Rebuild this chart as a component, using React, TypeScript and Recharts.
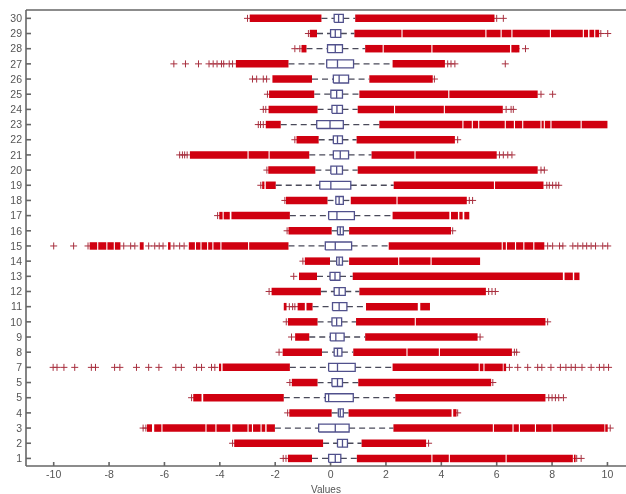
import { ScatterChart, Scatter, XAxis, YAxis } from "recharts";

const rowLabels = ["1", "2", "3", "4", "5", "5", "7", "8", "9", "10", "11", "12", "13", "14", "15", "16", "17", "18", "19", "20", "21", "22", "23", "24", "25", "26", "27", "28", "29", "30"];
const xTicks = [-10, -8, -6, -4, -2, 0, 2, 4, 6, 8, 10];

// box stats, index 0 is row 1
const q1 = [-0.07, 0.25, -0.43, 0.28, -0.19, 0.05, -0.07, 0.13, -0.01, 0.05, 0.07, 0.13, -0.02, 0.22, -0.19, 0.25, -0.07, 0.19, -0.39, 0.01, 0.1, 0.1, -0.5, 0.05, 0.01, 0.1, -0.14, -0.11, 0.0, 0.13];
const median = [0.17, 0.43, 0.17, 0.35, -0.07, 0.25, 0.25, 0.25, 0.19, 0.22, 0.31, 0.31, 0.16, 0.31, 0.17, 0.35, 0.23, 0.31, 0.01, 0.22, 0.35, 0.25, -0.02, 0.23, 0.22, 0.31, 0.25, 0.17, 0.17, 0.29];
const q3 = [0.37, 0.61, 0.67, 0.46, 0.82, 0.43, 0.89, 0.41, 0.49, 0.4, 0.59, 0.53, 0.34, 0.43, 0.76, 0.46, 0.86, 0.46, 0.73, 0.43, 0.65, 0.43, 0.46, 0.43, 0.43, 0.65, 0.83, 0.43, 0.37, 0.46];
const lowFence = [-0.67, -0.27, -2.01, 0.04, -1.69, -0.47, -1.47, -0.31, -0.77, -0.47, -0.65, -0.35, -0.49, -0.02, -1.52, 0.04, -1.47, -0.11, -1.98, -0.55, -0.77, -0.43, -1.8, -0.47, -0.59, -0.67, -1.52, -0.87, -0.49, -0.33];
const highFence = [0.95, 1.12, 2.27, 0.65, 2.34, 1.0, 2.24, 0.82, 1.25, 0.92, 1.28, 1.04, 0.8, 0.67, 2.1, 0.67, 2.24, 0.73, 2.28, 0.98, 1.48, 0.94, 1.76, 0.98, 1.04, 1.4, 2.24, 1.25, 0.86, 0.89];

// solid runs of overlapping outliers on each side of the box
const lowBands: number[][][] = [
  [[-1.54, -0.67]],
  [[-3.48, -0.27]],
  [[-6.63, -6.45], [-6.37, -6.11], [-6.07, -4.52], [-4.48, -4.16], [-4.12, -3.62], [-3.55, -3.0], [-2.96, -2.84], [-2.8, -2.53], [-2.49, -2.36], [-2.31, -2.01]],
  [[-1.49, 0.04]],
  [[-4.96, -4.66], [-4.6, -1.69]],
  [[-1.4, -0.47]],
  [[-4.03, -3.95], [-3.9, -1.47]],
  [[-1.73, -0.31]],
  [[-1.28, -0.77]],
  [[-1.54, -0.47]],
  [[-1.69, -1.59], [-1.19, -0.93], [-0.87, -0.65]],
  [[-2.13, -0.35]],
  [[-1.14, -0.49]],
  [[-0.93, -0.02]],
  [[-8.7, -8.43], [-8.39, -8.1], [-8.06, -7.83], [-7.79, -7.59], [-6.89, -6.75], [-5.87, -5.78], [-5.12, -4.9], [-4.86, -4.7], [-4.66, -4.46], [-4.42, -4.27], [-4.23, -3.98], [-3.94, -2.98], [-2.94, -1.52]],
  [[-1.52, 0.04]],
  [[-4.02, -3.9], [-3.86, -3.64], [-3.58, -1.47]],
  [[-1.61, -0.11]],
  [[-2.47, -2.39], [-2.34, -1.98]],
  [[-2.25, -0.55]],
  [[-5.08, -3.0], [-2.96, -2.24], [-2.2, -0.77]],
  [[-1.23, -0.43]],
  [[-2.34, -1.8]],
  [[-2.24, -0.47]],
  [[-2.22, -0.59]],
  [[-2.1, -0.67]],
  [[-3.42, -1.52]],
  [[-1.05, -0.87]],
  [[-0.75, -0.49]],
  [[-2.92, -0.33]],
];
const highBands: number[][][] = [
  [[0.95, 3.64], [3.68, 4.27], [4.31, 6.32], [6.36, 8.75], [8.79, 8.85]],
  [[1.12, 3.45]],
  [[2.27, 5.86], [5.9, 6.57], [6.61, 6.8], [6.84, 7.38], [7.42, 7.98], [8.02, 9.89], [9.92, 10.01]],
  [[0.65, 4.37], [4.43, 4.55]],
  [[2.34, 7.76]],
  [[1.0, 5.8]],
  [[2.24, 5.35], [5.39, 5.52], [5.56, 6.22], [6.25, 6.34]],
  [[0.82, 2.74], [2.78, 3.91], [3.95, 6.55]],
  [[1.25, 5.31]],
  [[0.92, 3.04], [3.08, 7.76]],
  [[1.28, 3.15], [3.24, 3.59]],
  [[1.04, 5.61]],
  [[0.8, 8.39], [8.45, 8.75], [8.8, 8.99]],
  [[0.67, 2.44], [2.48, 3.61], [3.65, 5.4]],
  [[2.1, 6.18], [6.22, 6.33], [6.37, 6.66], [6.7, 6.96], [7.0, 7.32], [7.36, 7.72]],
  [[0.67, 4.35]],
  [[2.24, 4.29], [4.35, 4.6], [4.65, 4.77], [4.83, 5.01]],
  [[0.73, 2.38], [2.42, 4.92]],
  [[2.28, 5.9], [5.94, 7.69]],
  [[0.98, 7.48]],
  [[1.48, 3.03], [3.07, 6.0]],
  [[0.94, 4.49]],
  [[1.76, 4.76], [4.8, 5.1], [5.14, 5.33], [5.37, 6.29], [6.33, 6.62], [6.66, 6.92], [6.96, 7.58], [7.62, 7.7], [7.74, 7.94], [7.98, 9.03], [9.07, 10.0]],
  [[0.98, 2.29], [2.33, 4.09], [4.13, 6.22]],
  [[1.04, 4.25], [4.29, 7.48]],
  [[1.4, 3.69]],
  [[2.24, 4.13]],
  [[1.25, 1.88], [1.92, 3.64], [3.68, 6.48], [6.53, 6.82]],
  [[0.86, 2.56], [2.6, 5.59], [5.63, 6.14], [6.18, 6.53], [6.57, 7.92], [7.96, 9.11], [9.15, 9.3], [9.35, 9.52], [9.56, 9.7]],
  [[0.89, 5.92]],
];

// single outliers that stay readable
const lowOutliers: number[][] = [
  [-1.71, -1.61],
  [-3.54],
  [-6.77, -6.67],
  [-1.55],
  [-5.02],
  [-1.47],
  [-10.02, -9.88, -9.63, -9.24, -8.64, -8.49, -7.8, -7.61, -7.01, -6.57, -6.2, -5.59, -5.39, -4.84, -4.66, -4.3, -4.18],
  [-1.86],
  [-1.41],
  [-1.6],
  [-1.49, -1.37, -1.29],
  [-2.22],
  [-1.33],
  [-1.0],
  [-10.0, -9.28, -8.76, -7.47, -7.22, -7.07, -6.57, -6.35, -6.19, -6.05, -5.66, -5.45, -5.29],
  [-1.57],
  [-4.08],
  [-1.65],
  [-2.52],
  [-2.3],
  [-5.45, -5.35, -5.27, -5.18],
  [-1.29],
  [-2.61, -2.53, -2.43],
  [-2.43, -2.34],
  [-2.28],
  [-2.82, -2.67, -2.43, -2.31],
  [-5.66, -5.24, -4.77, -4.39, -4.24, -4.1, -3.94, -3.86, -3.66, -3.54],
  [-1.29, -1.11],
  [-0.8],
  [-3.0],
];
const highOutliers: number[][] = [
  [8.89, 9.05],
  [3.54],
  [10.1],
  [4.59],
  [7.88, 8.0, 8.12, 8.24, 8.41],
  [5.86],
  [6.46, 6.76, 7.12, 7.48, 7.63, 7.96, 8.3, 8.5, 8.69, 8.84, 9.08, 9.41, 9.71, 9.87, 10.04],
  [6.64, 6.72],
  [5.4],
  [7.84],
  [],
  [5.71, 5.83, 5.95],
  [],
  [],
  [7.84, 8.02, 8.27, 8.39, 8.75, 8.93, 9.11, 9.25, 9.41, 9.57, 9.83, 10.01],
  [4.41],
  [],
  [5.01, 5.13],
  [7.81, 7.9, 8.02, 8.14, 8.24],
  [7.6, 7.72],
  [6.1, 6.24, 6.4, 6.55],
  [4.59],
  [],
  [6.34, 6.52, 6.6],
  [7.6, 8.02],
  [3.75],
  [4.23, 4.35, 4.49, 6.31],
  [6.7, 7.04],
  [9.76, 10.01],
  [6.0, 6.24],
];

const RED = "#d00010";
const PLUS = "#a8303f";
const BOX = "#50508c";
const DASH = "#4a4a5a";
const AXIS = "#666";
const BOX_HALF = 0.26;

const noDot = () => <g />;

const plus = (p: any) => (
  <path
    d={`M${p.cx - 3.5} ${p.cy}H${p.cx + 3.5}M${p.cx} ${p.cy - 3.5}V${p.cy + 3.5}`}
    stroke={PLUS}
    strokeWidth={1}
    fill="none"
  />
);

const pts = (row: number, xs: number[]) => xs.map((x) => ({ x, y: row }));

const Segment = (key: string, data: { x: number; y: number }[], line: object) => (
  <Scatter
    key={key}
    data={data}
    line={line}
    lineType="joint"
    shape={noDot}
    isAnimationActive={false}
  />
);

export default function App() {
  const bands: any[] = [];
  const whiskers: any[] = [];
  const boxes: any[] = [];
  rowLabels.forEach((_, i) => {
    const row = i + 1;
    [...lowBands[i], ...highBands[i]].forEach((b, j) =>
      bands.push(Segment(`b${row}-${j}`, pts(row, b), { stroke: RED, strokeWidth: 7.5 }))
    );
    const dash = { stroke: DASH, strokeWidth: 1.3, strokeDasharray: "6 4" };
    whiskers.push(Segment(`wl${row}`, pts(row, [lowFence[i], q1[i]]), dash));
    whiskers.push(Segment(`wh${row}`, pts(row, [q3[i], highFence[i]]), dash));
    const edge = { stroke: BOX, strokeWidth: 1.3 };
    boxes.push(
      Segment(
        `box${row}`,
        [
          { x: q1[i], y: row - BOX_HALF },
          { x: q3[i], y: row - BOX_HALF },
          { x: q3[i], y: row + BOX_HALF },
          { x: q1[i], y: row + BOX_HALF },
          { x: q1[i], y: row - BOX_HALF },
        ],
        edge
      )
    );
    boxes.push(
      Segment(
        `med${row}`,
        [
          { x: median[i], y: row - BOX_HALF },
          { x: median[i], y: row + BOX_HALF },
        ],
        edge
      )
    );
  });
  const outliers = rowLabels.flatMap((_, i) => pts(i + 1, [...lowOutliers[i], ...highOutliers[i]]));

  return (
    <div style={{ position: "absolute", left: 0, top: 0, width: 626, height: 494, filter: "blur(0.55px)" }}>
      <ScatterChart
        width={626}
        height={494}
        margin={{ top: 9, right: 0, bottom: 0, left: 0 }}
        style={{ fontFamily: "'Liberation Sans', Arial, sans-serif" }}
      >
        <XAxis
          type="number"
          dataKey="x"
          domain={[-11, 10.67]}
          ticks={xTicks}
          allowDataOverflow
          height={28}
          stroke={AXIS}
          strokeWidth={1.6}
          tickSize={-4}
          tickMargin={9}
          tick={{ fontSize: 10.5, fill: "#555" }}
          label={{ value: "Values", position: "insideBottom", offset: 1, fontSize: 10, fill: "#555" }}
        />
        <XAxis
          xAxisId="top"
          orientation="top"
          type="number"
          domain={[-11, 10.67]}
          ticks={xTicks}
          allowDataOverflow
          height={1}
          stroke={AXIS}
          strokeWidth={1.6}
          tickSize={-4}
          tick={false}
        />
        <YAxis
          type="number"
          dataKey="y"
          domain={[0.5, 30.55]}
          ticks={rowLabels.map((_, i) => i + 1)}
          interval={0}
          allowDataOverflow
          width={26}
          stroke={AXIS}
          strokeWidth={1.6}
          tickSize={-5}
          tickMargin={9}
          tick={{ fontSize: 10.5, fill: "#555" }}
          tickFormatter={(v: number) => rowLabels[v - 1]}
        />
        <Scatter data={outliers} shape={plus} isAnimationActive={false} />
        {bands}
        {whiskers}
        {boxes}
      </ScatterChart>
    </div>
  );
}
